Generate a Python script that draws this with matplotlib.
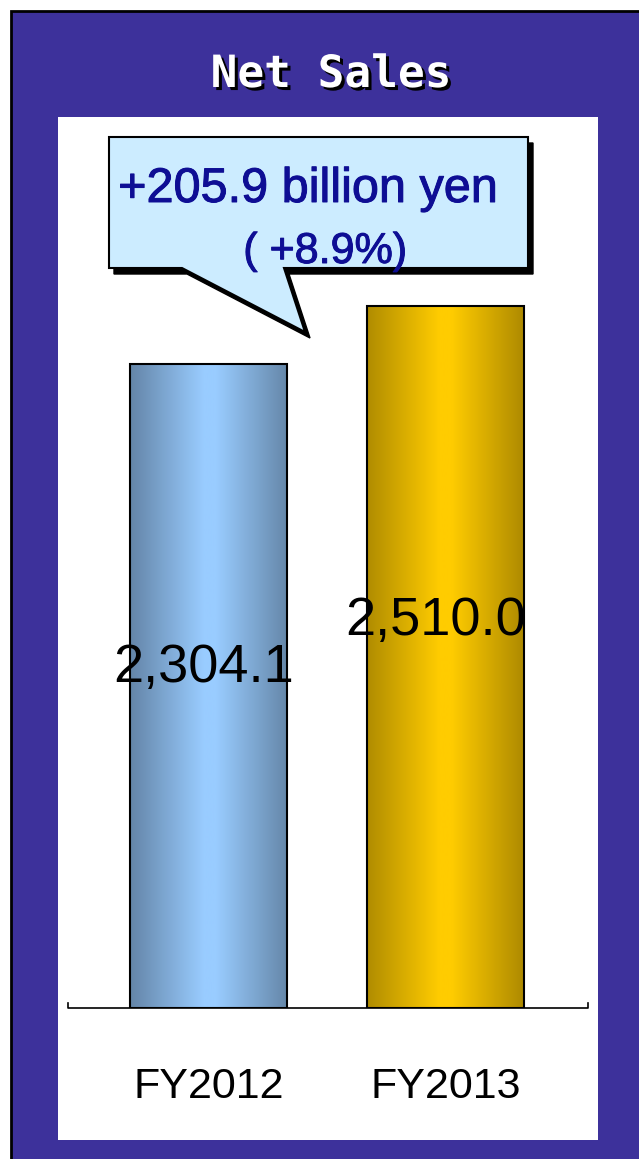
import matplotlib.pyplot as plt
import matplotlib.patheffects as pe
import numpy as np
from matplotlib.colors import LinearSegmentedColormap
from matplotlib.patches import Rectangle, Polygon

categories = ['FY2012', 'FY2013']
net_sales = [2304.1, 2510.0]          # billion yen
value_labels = ['2,304.1', '2,510.0']
change_text = '+205.9 billion yen'
change_pct = '( +8.9%)'

purple = '#3D319B'
navy = '#0E0E94'
bar_maps = [
    LinearSegmentedColormap.from_list('steel', [(0, '#6485A8'), (0.47, '#99CCFF'), (0.55, '#99CCFF'), (1, '#6688AA')]),
    LinearSegmentedColormap.from_list('gold', [(0, '#B08C00'), (0.46, '#FFCC00'), (0.54, '#FFCC00'), (1, '#AE8A00')]),
]

arial = ['Liberation Sans', 'DejaVu Sans']

fig = plt.figure(figsize=(6.39, 11.59), dpi=100)
fig.patch.set_facecolor('white')

# background layer in pixel units (y grows downward)
bg = fig.add_axes([0, 0, 1, 1])
bg.set_xlim(0, 639)
bg.set_ylim(1159, 0)
bg.axis('off')
bg.add_patch(Rectangle((10.5, 10.5), 640, 1160, facecolor=purple, edgecolor='black', lw=2))
bg.add_patch(Rectangle((58, 117), 540, 1023, facecolor='white', edgecolor='none'))

bg.text(331, 87, 'Net Sales', color='white', fontsize=32, fontweight='bold',
        family=['DejaVu Sans Mono'], ha='center', va='baseline',
        path_effects=[pe.withSimplePatchShadow(offset=(2.2, -2.2), shadow_rgbFace='black', alpha=1)])

# speech bubble with drop shadow
bubble = [(109, 137), (528, 137), (528, 268), (284, 268), (305, 332), (182, 268), (109, 268)]
shadow = [(x + 5, y + 6) for x, y in bubble]
bg.add_patch(Polygon(shadow, closed=True, facecolor='black', edgecolor='black', lw=1))
bg.add_patch(Polygon(bubble, closed=True, facecolor='#CCECFF', edgecolor='black', lw=1.5))
heavy = [pe.withStroke(linewidth=0.7, foreground=navy)]
bg.text(308, 202, change_text, color=navy, fontsize=35, family=arial, ha='center', va='baseline',
        path_effects=heavy)
bg.text(325, 263, change_pct, color=navy, fontsize=31, family=arial, ha='center', va='baseline',
        path_effects=heavy)

# bar chart
ax = fig.add_axes([68 / 639, (1159 - 1008) / 1159, 520 / 639, 891 / 1159])
ax.patch.set_visible(False)
for s in ax.spines.values():
    s.set_visible(False)
ax.set_xticks([])
ax.set_yticks([])

x = np.arange(len(categories))
width = 0.662
bars = ax.bar(x, net_sales, width=width, facecolor='none', edgecolor='black', lw=1.5, zorder=3)
grad = np.linspace(0, 1, 256).reshape(1, -1)
for bar, cmap in zip(bars, bar_maps):
    x0 = bar.get_x()
    im = ax.imshow(grad, cmap=cmap, extent=[x0, x0 + width, 0, bar.get_height()],
                   aspect='auto', zorder=2)
    im.set_clip_path(bar)

ax.set_xlim(-0.593, 1.601)
ax.set_ylim(0, 3188)

ax.plot([0, 0, 1, 1], [5 / 891, 0, 0, 5 / 891], transform=ax.transAxes,
        color='black', lw=1.2, clip_on=False, zorder=4)

label_shift = [(-0.02, 0.506), (-0.04, 0.532)]
for xi, v, lab, (dx, fy) in zip(x, net_sales, value_labels, label_shift):
    ax.text(xi + dx, v * fy, lab, fontsize=39, family=arial, ha='center', va='baseline', zorder=5)

for xi, cat in zip(x, categories):
    ax.text(xi, -322, cat, fontsize=31, family=arial, ha='center', va='baseline', clip_on=False)

fig.savefig('out.png', dpi=100)
